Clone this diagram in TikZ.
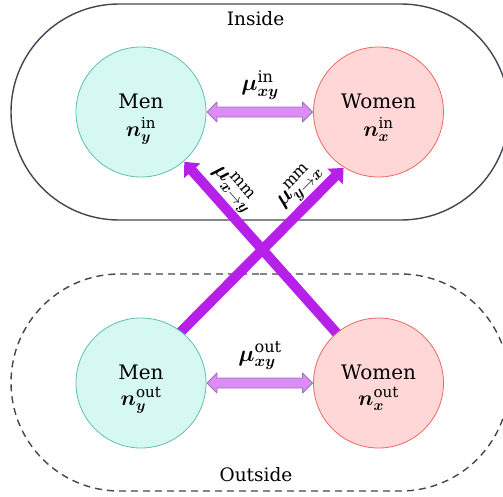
\RequirePackage{fix-cm}
\documentclass[tikz,border=0pt]{standalone}
\usepackage{amsmath}
\usepackage{fontspec}
\setmainfont{DejaVu Serif}
\usetikzlibrary{calc,shapes.misc}

\definecolor{menfill}{RGB}{214,248,242}
\definecolor{menline}{RGB}{92,190,176}
\definecolor{womenfill}{RGB}{255,215,215}
\definecolor{womenline}{RGB}{240,100,100}
\definecolor{crossflow}{RGB}{182,32,232}
\definecolor{localfill}{RGB}{220,140,246}
\definecolor{localline}{RGB}{160,112,180}
\definecolor{framecol}{RGB}{65,70,80}

\pgfdeclarelayer{frames}
\pgfdeclarelayer{links}
\pgfsetlayers{frames,links,main}

% heavy italic letters for the symbols
\newcommand\hv[1]{\boldsymbol{#1}}

% single-headed fat arrow: #1 style, #2 tail, #3 tip,
% #4 half shaft width, #5 half head width, #6 head length
\newcommand\fatarrow[6]{%
  \fill[#1] ($(#2)!#4!90:(#3)$)
    -- ($(#3)!#6!(#2)!#4!-90:(#2)$)
    -- ($(#3)!#6!(#2)!#5!-90:(#2)$)
    -- (#3)
    -- ($(#3)!#6!(#2)!#5!90:(#2)$)
    -- ($(#3)!#6!(#2)!#4!90:(#2)$)
    -- ($(#2)!#4!-90:(#3)$) -- cycle;}

% fat arrow with a head at both ends
\newcommand\fatdoublearrow[6]{%
  \filldraw[#1] (#2)
    -- ($(#2)!#6!(#3)!#5!90:(#3)$)
    -- ($(#2)!#6!(#3)!#4!90:(#3)$)
    -- ($(#3)!#6!(#2)!#4!-90:(#2)$)
    -- ($(#3)!#6!(#2)!#5!-90:(#2)$)
    -- (#3)
    -- ($(#3)!#6!(#2)!#5!90:(#2)$)
    -- ($(#3)!#6!(#2)!#4!90:(#2)$)
    -- ($(#2)!#6!(#3)!#4!-90:(#3)$)
    -- ($(#2)!#6!(#3)!#5!-90:(#3)$) -- cycle;}

\begin{document}
\begin{tikzpicture}[x=1pt,y=-1pt,
  group/.style={circle, minimum size=130pt, inner sep=0pt, outer sep=1pt, line width=0.8pt},
  men/.style={group, draw=menline, fill=menfill},
  women/.style={group, draw=womenline, fill=womenfill},
  frame/.style={rounded rectangle, draw=framecol, line width=1.4pt, inner sep=0pt},
  title/.style={font=\fontsize{20}{24}\selectfont, inner sep=0pt, anchor=base},
  var/.style={font=\fontsize{21.5}{25}\selectfont, inner sep=0pt, anchor=base},
  rate/.style={font=\fontsize{23}{27}\selectfont, inner sep=0pt},
  area/.style={font=\fontsize{18.5}{22}\selectfont, inner sep=0pt},
  local/.style={fill=localfill, draw=localline, line width=0.8pt, line join=round},
  cross/.style={fill=crossflow}]
\useasboundingbox (0,0) rectangle (503,496);

% population groups
\node[men]   (mi) at (141,112)   {};
\node[women] (wi) at (378.5,112) {};
\node[men]   (mo) at (141,383)   {};
\node[women] (wo) at (378.5,383) {};

\node[title] (mi-t) at (141,108.5)   {Men};
\node[var]   (mi-v) at (141,136.5)   {$\hv{n}_{\hv{y}}^{\mathrm{in}}$};
\node[title] (wi-t) at (378.5,108.5) {Women};
\node[var]   (wi-v) at (378.5,136.5) {$\hv{n}_{\hv{x}}^{\mathrm{in}}$};
\node[title] (mo-t) at (141,379.5)   {Men};
\node[var]   (mo-v) at (141,405.5)   {$\hv{n}_{\hv{y}}^{\mathrm{out}}$};
\node[title] (wo-t) at (378.5,379.5) {Women};
\node[var]   (wo-v) at (378.5,405.5) {$\hv{n}_{\hv{x}}^{\mathrm{out}}$};

% inside / outside regions
\begin{pgfonlayer}{frames}
  \node[frame, minimum width=498pt, minimum height=216pt] (inside) at (260,112) {};
  \node[frame, dash pattern=on 7pt off 5pt, minimum width=498pt, minimum height=217pt] (outside) at (260,382.5) {};
\end{pgfonlayer}
\node[area] (inside-l)  at (255.5,19) {Inside};
\node[area] (outside-l) at (256,475)  {Outside};

% flows between groups
\coordinate (a1s) at ($(wo.130)!-4pt!(mi.311)$);
\coordinate (a1e) at (mi.311);
\coordinate (a2s) at ($(mo.52)!-4pt!(wi.238)$);
\coordinate (a2e) at (wi.238);
\begin{pgfonlayer}{links}
  \fatarrow{cross}{a1s}{a1e}{5pt}{11pt}{12pt}
  \fatarrow{cross}{a2s}{a2e}{5pt}{11pt}{12pt}
\end{pgfonlayer}
\fatdoublearrow{local}{mi.east}{wi.west}{5pt}{10pt}{10pt}
\fatdoublearrow{local}{mo.east}{wo.west}{5pt}{10pt}{10pt}

% rates
\node[rate] (r-in)  at (260,85)  {$\hv{\mu}_{\hv{xy}}^{\mathrm{in}}$};
\node[rate] (r-out) at (260,356) {$\hv{\mu}_{\hv{xy}}^{\mathrm{out}}$};
\node[rate, rotate=-48.7] (r-xy) at (233.5,187.5) {$\hv{\mu}_{\hv{x}\to\hv{y}}^{\mathrm{mm}}$};
\node[rate, rotate=45]    (r-yx) at (298.5,186)   {$\hv{\mu}_{\hv{y}\to\hv{x}}^{\mathrm{mm}}$};
\end{tikzpicture}
\end{document}
